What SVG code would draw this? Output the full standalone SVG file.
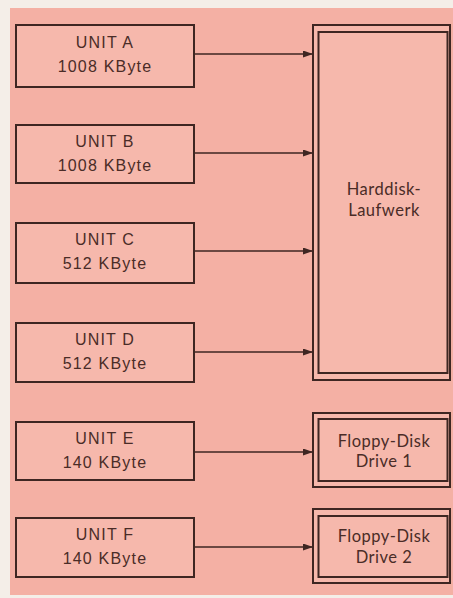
<svg xmlns="http://www.w3.org/2000/svg" width="453" height="598" viewBox="0 0 453 598">
<defs>
<style>
.u{fill:#f6b8ac;stroke:#3e2622;stroke-width:2}
.d{fill:none;stroke:#3e2622;stroke-width:2}
.t{font-family:"Liberation Sans",Arial,sans-serif;font-size:16px;fill:#4a2c27;text-anchor:middle;letter-spacing:1.2px}
.h{font-family:Lato,"Liberation Sans",sans-serif;font-size:16.5px;fill:#4a2c27;text-anchor:middle;letter-spacing:0.5px}
.c{stroke:#3e2622;stroke-width:1.6;fill:none}
</style>
<marker id="ah" markerWidth="10" markerHeight="7" refX="10" refY="3.5" orient="auto" markerUnits="userSpaceOnUse">
<path d="M0,0 L10,3.5 L0,7 Z" fill="#3e2622"/>
</marker>
</defs>
<rect x="0" y="0" width="453" height="598" fill="#f4eee8"/>
<rect x="10" y="8" width="443" height="587" fill="#f4b0a4"/>
<g id="connectors">
<line class="c" x1="194" y1="54" x2="313" y2="54" marker-end="url(#ah)"/>
<line class="c" x1="194" y1="153" x2="313" y2="153" marker-end="url(#ah)"/>
<line class="c" x1="194" y1="251" x2="313" y2="251" marker-end="url(#ah)"/>
<line class="c" x1="194" y1="352" x2="313" y2="352" marker-end="url(#ah)"/>
<line class="c" x1="194" y1="452" x2="313" y2="452" marker-end="url(#ah)"/>
<line class="c" x1="194" y1="547" x2="313" y2="547" marker-end="url(#ah)"/>
</g>
<g id="unitA"><rect class="u" x="16" y="25" width="178" height="62"/><text class="t" x="105" y="48">UNIT A</text><text class="t" x="105" y="72">1008 KByte</text></g>
<g id="unitB"><rect class="u" x="16" y="125" width="178" height="58"/><text class="t" x="105" y="147">UNIT B</text><text class="t" x="105" y="171">1008 KByte</text></g>
<g id="unitC"><rect class="u" x="16" y="223" width="178" height="60"/><text class="t" x="105" y="245">UNIT C</text><text class="t" x="105" y="269">512 KByte</text></g>
<g id="unitD"><rect class="u" x="16" y="323" width="178" height="59"/><text class="t" x="105" y="345">UNIT D</text><text class="t" x="105" y="369">512 KByte</text></g>
<g id="unitE"><rect class="u" x="16" y="422" width="178" height="58"/><text class="t" x="105" y="444">UNIT E</text><text class="t" x="105" y="468">140 KByte</text></g>
<g id="unitF"><rect class="u" x="16" y="518" width="178" height="59"/><text class="t" x="105" y="540">UNIT F</text><text class="t" x="105" y="564">140 KByte</text></g>
<g id="harddisk"><rect class="u" x="313" y="25" width="137" height="355"/><rect class="d" x="318.5" y="32" width="129" height="341"/><text class="h" x="384" y="195">Harddisk-</text><text class="h" x="384" y="216">Laufwerk</text></g>
<g id="floppy1"><rect class="u" x="313" y="413" width="137" height="74"/><rect class="d" x="318.5" y="419" width="129" height="62"/><text class="h" x="384" y="447">Floppy-Disk</text><text class="h" x="384" y="467">Drive 1</text></g>
<g id="floppy2"><rect class="u" x="313" y="509" width="137" height="74"/><rect class="d" x="318.5" y="516" width="129" height="61"/><text class="h" x="384" y="542">Floppy-Disk</text><text class="h" x="384" y="563">Drive 2</text></g>
</svg>
